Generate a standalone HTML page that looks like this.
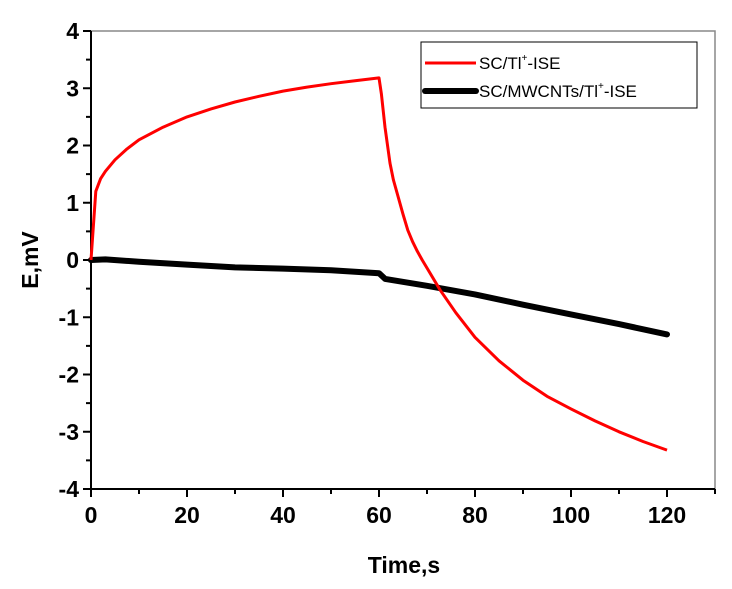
<!DOCTYPE html>
<html><head><meta charset="utf-8"><style>
body{margin:0;background:#fff;}
svg{display:block;}
.tl{font-family:"Liberation Sans",Arial,sans-serif;font-weight:bold;font-size:23px;fill:#000;}
.lg{font-family:"Liberation Sans",Arial,sans-serif;font-size:17px;fill:#000;}
</style></head><body>
<svg id="chart" width="732" height="589" viewBox="0 0 732 589" xmlns="http://www.w3.org/2000/svg">
<rect width="732" height="589" fill="#fff"/>
<g id="axes"></g>
<g id="series"></g>
<g>
<rect x="421" y="42" width="276" height="66" fill="#fff" stroke="#000" stroke-width="1"/>
<line x1="425" y1="63" x2="476" y2="63" stroke="#ff0000" stroke-width="3"/>
<text class="lg" x="479" y="69">SC/Tl<tspan font-size="10" dy="-8">+</tspan><tspan dy="8">-ISE</tspan></text>
<line x1="425" y1="91" x2="476" y2="91" stroke="#000" stroke-width="6" stroke-linecap="round"/>
<text class="lg" x="479" y="97">SC/MWCNTs/Tl<tspan font-size="10" dy="-8">+</tspan><tspan dy="8">-ISE</tspan></text>
</g>
<text class="tl" font-size="24" transform="translate(38,260) rotate(-90)" text-anchor="middle">E,mV</text>
<text class="tl" font-size="24" x="404" y="573" text-anchor="middle">Time,s</text>
</svg>
<script>
const xTicks=[0,20,40,60,80,100,120];
const yTicks=[-4,-3,-2,-1,0,1,2,3,4];
const redT=[0,1,2,3,5,7.5,10,15,20,25,30,35,40,45,50,55,60,60.5,61.25,62.3,63,64,65,66,67,68,69,70,72.7,76,80,85,90,95,100,105,110,115,120];
const redE=[0,1.2,1.42,1.55,1.75,1.94,2.1,2.32,2.5,2.64,2.76,2.86,2.95,3.02,3.08,3.13,3.18,2.9,2.32,1.69,1.4,1.1,0.8,0.52,0.32,0.15,0,-0.14,-0.52,-0.92,-1.35,-1.76,-2.1,-2.38,-2.6,-2.81,-3.0,-3.17,-3.32];
const blkT=[0,3,10,20,30,40,50,60,61.3,70,80,90,100,110,120];
const blkE=[0,0.01,-0.03,-0.08,-0.13,-0.15,-0.18,-0.23,-0.33,-0.45,-0.6,-0.78,-0.95,-1.12,-1.3];
const X0=91,XS=4.8,Y0=260,YS=57.25;
const sx=t=>X0+t*XS, sy=e=>Y0-e*YS;
const NS="http://www.w3.org/2000/svg";
const ax=document.getElementById('axes'), se=document.getElementById('series');
function mk(tag,attrs,parent){const e=document.createElementNS(NS,tag);for(const k in attrs)e.setAttribute(k,attrs[k]);parent.appendChild(e);return e;}
let f=mk('rect',{x:sx(0),y:sy(4),width:sx(130)-sx(0),height:sy(-4)-sy(4),fill:'none',stroke:'#888','stroke-width':1.5},ax);


let xa=mk('line',{x1:sx(0),y1:sy(-4),x2:sx(130),y2:sy(-4),stroke:'#000','stroke-width':2},ax);


let ya=mk('line',{x1:sx(0),y1:sy(-4),x2:sx(0),y2:sy(4),stroke:'#000','stroke-width':2},ax);


for(let t=0;t<=130;t+=10){const major=t%20===0;
 let l=mk('line',{x1:sx(t),y1:sy(-4),x2:sx(t),y2:sy(-4)+(major?8:5),stroke:'#000','stroke-width':2},ax);
 
 }
xTicks.forEach(t=>{let tx=mk('text',{x:sx(t),y:sy(-4)+34,'text-anchor':'middle',class:'tl'},ax);tx.textContent=t;
 
 });
for(let v=-4;v<=4;v+=0.5){const major=Number.isInteger(v);
 let l=mk('line',{x1:sx(0)-(major?8:5),y1:sy(v),x2:sx(0),y2:sy(v),stroke:'#000','stroke-width':2},ax);
 
 }
yTicks.forEach(v=>{let tx=mk('text',{x:sx(0)-12,y:sy(v)+8,'text-anchor':'end',class:'tl'},ax);tx.textContent=v;
 
 });
function pts(T,E){return T.map((t,i)=>sx(t).toFixed(1)+','+sy(E[i]).toFixed(1)).join(' ');}
let b=mk('polyline',{points:pts(blkT,blkE),fill:'none',stroke:'#000','stroke-width':6,'stroke-linejoin':'round','stroke-linecap':'round'},se);


let r=mk('polyline',{points:pts(redT,redE),fill:'none',stroke:'#ff0000','stroke-width':3,'stroke-linejoin':'round'},se);


</script>
</body></html>
